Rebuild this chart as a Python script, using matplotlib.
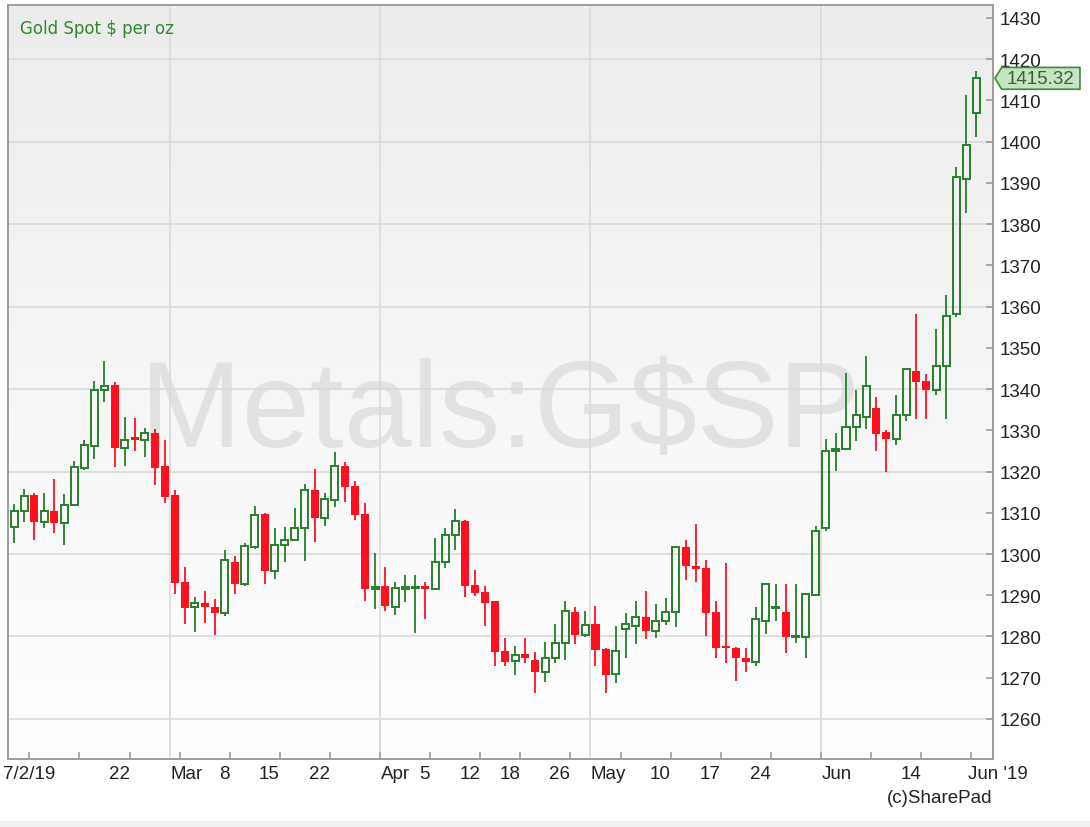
import numpy as np
import pandas as pd
import matplotlib
matplotlib.use('Agg')
import matplotlib.pyplot as plt
import matplotlib.transforms as mtransforms
from matplotlib.patches import Polygon, Rectangle
from matplotlib.colors import LinearSegmentedColormap

######################################
# DATA. gold spot daily candles, 7 Feb 2019 - 24 Jun 2019 #
dates = pd.bdate_range('2019-02-07', '2019-06-24')
dates = dates[dates != pd.Timestamp('2019-04-19')]  # good friday, no candle

opens = [1306.6, 1310.4, 1314.3, 1307.8, 1310.5, 1307.5, 1311.9, 1320.8, 1326.3, 1339.8,
         1341.0, 1325.8, 1328.1, 1327.6, 1329.4, 1321.3, 1314.3, 1293.3, 1287.1, 1288.0,
         1287.2, 1285.8, 1298.1, 1292.7, 1301.7, 1309.7, 1296.0, 1302.2, 1303.5, 1306.2,
         1315.4, 1308.7, 1313.2, 1321.4, 1316.6, 1309.7, 1291.5, 1292.2, 1287.1, 1291.5,
         1291.7, 1292.1, 1291.5, 1298.1, 1304.7, 1308.1, 1292.5, 1290.7, 1288.5, 1276.5,
         1274.1, 1275.8, 1274.4, 1271.5, 1274.7, 1278.4, 1285.9, 1280.4, 1283.0, 1277.0,
         1270.8, 1281.8, 1282.6, 1284.7, 1281.3, 1283.7, 1285.9, 1301.8, 1296.9, 1296.6,
         1285.9, 1277.8, 1277.3, 1274.9, 1273.9, 1283.8, 1286.8, 1285.9, 1279.8, 1279.8,
         1290.1, 1306.2, 1325.0, 1325.5, 1330.7, 1333.3, 1335.4, 1329.5, 1327.9, 1333.7,
         1344.4, 1341.9, 1339.8, 1345.5, 1358.2, 1390.9, 1406.9]
highs = [1312.1, 1315.8, 1314.8, 1314.8, 1318.2, 1314.5, 1322.6, 1327.7, 1341.9, 1346.9,
         1341.6, 1333.3, 1332.9, 1330.5, 1330.3, 1327.7, 1315.4, 1296.8, 1289.5, 1291.1,
         1289.1, 1301.0, 1299.4, 1302.7, 1311.6, 1309.9, 1306.3, 1306.6, 1311.1, 1317.0,
         1320.6, 1314.8, 1324.7, 1322.2, 1317.7, 1312.4, 1300.2, 1296.9, 1293.1, 1294.9,
         1294.8, 1293.1, 1303.8, 1306.2, 1310.8, 1308.3, 1296.2, 1292.2, 1288.6, 1279.6,
         1277.6, 1279.6, 1276.3, 1278.7, 1283.0, 1288.7, 1287.1, 1286.1, 1287.5, 1277.1,
         1282.6, 1285.7, 1288.7, 1291.1, 1287.9, 1289.4, 1301.8, 1303.5, 1307.3, 1298.5,
         1288.7, 1297.7, 1277.4, 1277.1, 1287.1, 1292.7, 1292.7, 1292.7, 1292.7, 1290.3,
         1306.7, 1327.9, 1329.3, 1343.9, 1339.8, 1348.1, 1338.0, 1330.1, 1338.5, 1344.8,
         1358.3, 1343.6, 1354.5, 1362.8, 1393.9, 1411.3, 1417.2]
lows = [1302.7, 1307.8, 1303.5, 1306.2, 1305.1, 1302.2, 1311.6, 1320.4, 1323.0, 1336.9,
        1321.0, 1321.4, 1325.0, 1323.4, 1316.7, 1312.4, 1290.3, 1283.0, 1281.0, 1283.3,
        1280.4, 1284.9, 1290.3, 1292.3, 1301.2, 1292.7, 1293.9, 1298.1, 1303.3, 1298.4,
        1303.0, 1306.7, 1311.3, 1312.5, 1308.3, 1288.7, 1286.7, 1286.3, 1285.1, 1288.3,
        1280.8, 1284.2, 1291.3, 1296.5, 1301.0, 1289.5, 1289.9, 1282.6, 1272.8, 1272.8,
        1270.7, 1273.6, 1266.3, 1268.9, 1273.6, 1274.2, 1278.2, 1279.8, 1272.9, 1266.3,
        1268.7, 1274.7, 1278.1, 1279.4, 1279.7, 1282.8, 1282.2, 1293.7, 1293.1, 1280.2,
        1274.7, 1273.6, 1269.1, 1271.5, 1272.9, 1280.6, 1283.8, 1276.0, 1278.4, 1274.7,
        1290.1, 1305.5, 1320.2, 1325.5, 1327.5, 1330.3, 1325.0, 1319.8, 1326.4, 1332.3,
        1332.7, 1332.7, 1338.5, 1332.7, 1357.5, 1382.7, 1401.0]
closes = [1310.4, 1314.1, 1307.8, 1310.4, 1307.4, 1312.0, 1321.0, 1326.4, 1339.8, 1340.7,
          1325.7, 1327.6, 1327.6, 1329.3, 1320.8, 1313.9, 1293.0, 1286.9, 1288.0, 1287.1,
          1285.8, 1298.5, 1292.7, 1301.9, 1309.5, 1295.9, 1302.2, 1303.5, 1306.3, 1315.4,
          1308.7, 1313.3, 1321.4, 1316.3, 1309.5, 1291.5, 1292.0, 1287.3, 1291.7, 1291.9,
          1292.1, 1291.5, 1298.1, 1304.6, 1307.9, 1292.3, 1290.5, 1288.1, 1276.3, 1273.9,
          1275.5, 1274.7, 1271.5, 1274.7, 1278.4, 1286.3, 1280.4, 1282.9, 1276.7, 1270.7,
          1276.4, 1283.0, 1284.7, 1281.3, 1283.7, 1285.9, 1301.8, 1297.2, 1296.4, 1285.7,
          1277.1, 1277.1, 1274.7, 1273.9, 1284.2, 1292.7, 1287.1, 1279.8, 1280.0, 1290.3,
          1305.5, 1325.0, 1325.5, 1330.9, 1333.8, 1340.7, 1329.1, 1327.9, 1333.7, 1344.8,
          1341.8, 1339.8, 1345.5, 1357.8, 1391.5, 1399.2, 1415.32]

# x axis labels
first_label = '7/2/19'
last_label = "Jun '19"
month_labels = ['Mar', 'Apr', 'May', 'Jun']
week_label_dates = ['2019-02-22', '2019-03-08', '2019-03-15', '2019-03-22', '2019-04-05',
                    '2019-04-12', '2019-04-18', '2019-04-26', '2019-05-10', '2019-05-17',
                    '2019-05-24', '2019-06-14']
y_ticks = list(range(1260, 1431, 10))
y_grid = list(range(1260, 1421, 20))
title = 'Gold Spot $ per oz'
watermark = 'Metals:G$SP'
credit = '(c)SharePad'
######################################

up_col = '#24802a'
down_col = '#ff1020'
grid_col = '#dadada'
spine_col = '#9c9c9c'
txt_col = '#222222'
font = 'Liberation Sans'

opens = np.array(opens)
highs = np.array(highs)
lows = np.array(lows)
closes = np.array(closes)
xs = np.arange(len(dates))

fig = plt.figure(figsize=(10.9, 8.28), dpi=100)
fig.patches.append(Rectangle((0, 0), 1, 6 / 828, transform=fig.transFigure,
                             color='#f0f0f0', zorder=-5))
ax = fig.add_axes([8 / 1090, 68 / 828, 985 / 1090, 754 / 828])

# background gradient
cmap = LinearSegmentedColormap.from_list('bg', ['#ececec', '#ffffff'])
ax.imshow(np.linspace(0, 1, 256).reshape(-1, 1), cmap=cmap, aspect='auto',
          extent=[0, 1, 0, 1], transform=ax.transAxes, zorder=0)

ax.text(0.4995, 0.415, watermark, transform=ax.transAxes, ha='center', va='baseline',
        fontsize=88, color='#e2e2e2', family=font, zorder=1)

# grid: horizontal every 20, vertical at month changes
for g in y_grid:
    ax.axhline(g, color=grid_col, lw=1.2, zorder=1)

week_pos = []
month_pos = []
for i in range(len(dates) - 1):
    if dates[i + 1].isocalendar()[1] != dates[i].isocalendar()[1]:
        week_pos.append(i + 0.5)
    if dates[i + 1].month != dates[i].month:
        month_pos.append(i + 0.5)
for m in month_pos:
    ax.axvline(m, color=grid_col, lw=1.2, zorder=1)

# candles
up = closes >= opens
bw = 0.8
for i in xs:
    o, h, l, c = opens[i], highs[i], lows[i], closes[i]
    lo_b, hi_b = min(o, c), max(o, c)
    if up[i]:
        ax.vlines(i, l, lo_b, color=up_col, lw=1.3, zorder=3)
        ax.vlines(i, hi_b, h, color=up_col, lw=1.3, zorder=3)
        ax.bar(i, max(hi_b - lo_b, 0.3), bottom=lo_b, width=bw - 0.1, facecolor='none',
               edgecolor=up_col, lw=1.4, zorder=4)
    else:
        ax.vlines(i, l, h, color=down_col, lw=1.3, zorder=3)
        ax.bar(i, max(hi_b - lo_b, 0.7), bottom=lo_b, width=bw, color=down_col,
               lw=0, zorder=4)

ax.set_xlim(-0.63, 97.67)
ax.set_ylim(1250.3, 1433.1)

# axes styling
for s in ax.spines.values():
    s.set_color(spine_col)
    s.set_linewidth(1.4)
ax.yaxis.tick_right()
ax.set_yticks(y_ticks)
ax.set_yticklabels([str(v) for v in y_ticks], family=font, fontsize=13.5, color=txt_col)
ax.tick_params(axis='y', direction='in', length=5, width=1.2, color=spine_col, pad=5)
ax.set_xticks([])
ax.set_xticks(week_pos, minor=True)
ax.tick_params(axis='x', which='minor', direction='in', length=5, width=1.2, color=spine_col)
ax.tick_params(axis='x', which='minor', labelbottom=False)

# x labels
xt = mtransforms.blended_transform_factory(ax.transData, ax.transAxes)
lab_y = -0.0186
lab_kw = dict(transform=xt, va='center', family=font, fontsize=13.5, color=txt_col)
ax.text(week_pos[0], lab_y, first_label, ha='center', **lab_kw)
ax.text(week_pos[-1] - 0.3, lab_y, last_label, ha='left', **lab_kw)
for m, name in zip(month_pos, month_labels):
    ax.text(m + 0.05, lab_y, name, ha='left', **lab_kw)
for d in week_label_dates:
    i = int(np.where(dates == pd.Timestamp(d))[0][0])
    ax.text(i + 0.5, lab_y, str(pd.Timestamp(d).day), ha='right', **lab_kw)

ax.text(0.999, -0.0504, credit, transform=ax.transAxes, ha='right', va='center',
        family=font, fontsize=13.5, color=txt_col)
ax.text(0.0122, 0.9695, title, transform=ax.transAxes, ha='left', va='center',
        fontsize=12, color='#2e8b2e')

# last price tag
last = closes[-1]
yt = mtransforms.blended_transform_factory(ax.transAxes, ax.transData)
hh = 2.65
tag = Polygon([(1.002, last), (1.0088, last + hh), (1.0883, last + hh),
               (1.0883, last - hh), (1.0088, last - hh)], closed=True,
              transform=yt, facecolor='#c4e4c4', edgecolor='#3c8c3c', lw=1.2,
              clip_on=False, zorder=5)
ax.add_patch(tag)
ax.text(1.0486, last, '%.2f' % last, transform=yt, ha='center', va='center',
        family=font, fontsize=13.5, color='#3b5f3b', clip_on=False, zorder=6)

fig.savefig('out.png', dpi=100)
